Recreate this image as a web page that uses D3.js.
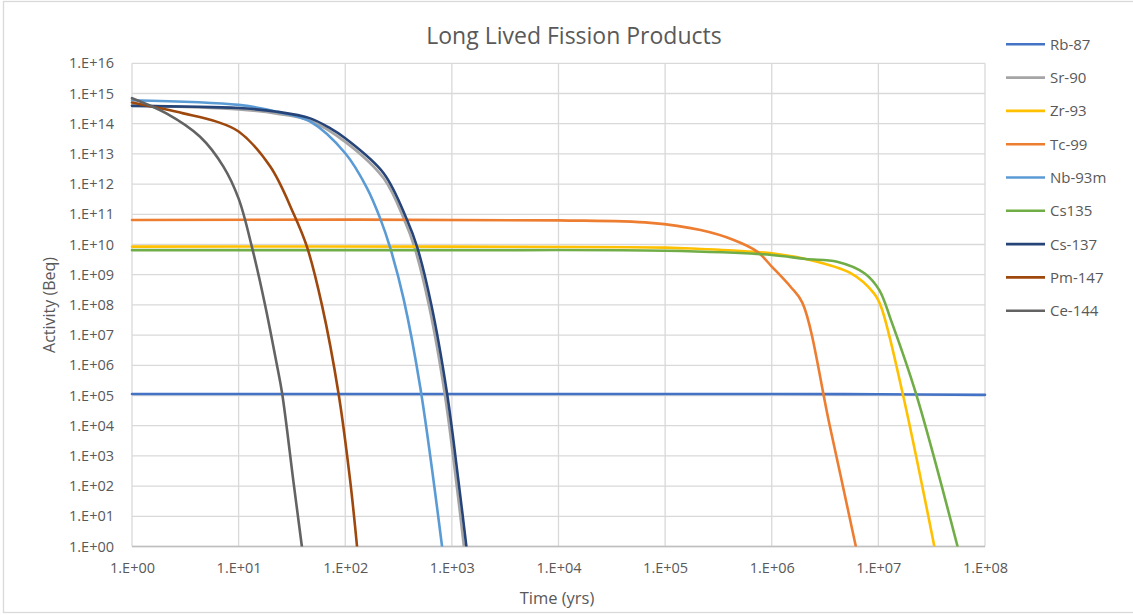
<!DOCTYPE html>
<html>
<head>
<meta charset="utf-8">
<script src="https://cdn.jsdelivr.net/npm/d3@7"></script>
<style>
  html, body { margin: 0; padding: 0; background: #ffffff; }
  svg { display: block; }
  text { font-family: "Open Sans", "Liberation Sans", sans-serif; fill: #595959; }
</style>
</head>
<body>
<svg id="chart" width="1133" height="615"></svg>
<script>
// ---------- data (time in years, activity in Beq) ----------
const seriesNames = ["Rb-87", "Sr-90", "Zr-93", "Tc-99", "Nb-93m", "Cs135", "Cs-137", "Pm-147", "Ce-144"];
const seriesColors = ["#4472c4", "#a5a5a5", "#ffc000", "#ed7d31", "#5b9bd5", "#70ad47", "#264478", "#9e480e", "#636363"];

const rb87 = [[1, 1.12e5], [1e4, 1.12e5], [1e6, 1.12e5], [1e7, 1.1e5], [1e8, 1.05e5]];
const sr90 = [[1, 4.0e14], [10, 2.95e14], [22.8, 2.15e14], [47, 1.26e14], [100, 2.5e13], [229, 1.55e12], [358, 6.5e10], [444, 8.5e9], [608, 1.0e8], [856, 1.17e5], [1102, 126], [1297, 1]];
const zr93 = [[1, 8.5e9], [1e3, 8.5e9], [1e5, 7.9e9], [2.15e5, 7.1e9], [4.4e5, 6.3e9], [1e6, 5.1e9], [2.08e6, 3.3e9], [5.5e6, 1.12e9], [9.1e6, 2.4e8], [1.06e7, 8.7e7], [1.69e7, 1.17e5], [3.35e7, 1]];
const tc99 = [[1, 6.5e10], [1e4, 6.3e10], [7.3e4, 5.2e10], [2.15e5, 3.0e10], [4.4e5, 1.41e10], [7.3e5, 5.8e9], [1e6, 1.86e9], [1.5e6, 4.0e8], [1.94e6, 1.17e8], [3.5e6, 1.0e4], [6.15e6, 1]];
const nb93m = [[1, 6.0e14], [10, 4.2e14], [22.8, 2.5e14], [47, 1.17e14], [100, 1.05e13], [160, 7.4e11], [213, 7.2e10], [265, 7.4e9], [353, 1.55e8], [506, 1.8e5], [809, 1]];
const cs135 = [[1, 6.5e9], [1e3, 6.5e9], [1e5, 6.2e9], [1e6, 4.5e9], [2.08e6, 3.3e9], [4.1e6, 2.7e9], [7.4e6, 1.12e9], [1.02e7, 3.1e8], [1.31e7, 3.2e7], [2.25e7, 1.17e5], [5.53e7, 1]];
const cs137 = [[1, 3.9e14], [10, 3.3e14], [22.8, 2.5e14], [47, 1.5e14], [72, 7.1e13], [100, 3.3e13], [229, 2.3e12], [380, 6.5e10], [471, 8.5e9], [642, 1.0e8], [901, 1.17e5], [1159, 126], [1368, 1]];
const pm147 = [[1, 5.0e14], [3.03, 2.2e14], [6.2, 1.17e14], [10, 5.5e13], [19.8, 3.8e12], [32.7, 1.07e11], [43.7, 8.5e9], [60.4, 1.0e8], [86.5, 1.17e5], [111, 160], [129, 1]];
const ce144 = [[1, 7.0e14], [2.1, 2.2e14], [4.35, 3.7e13], [7.2, 3.8e12], [10, 3.3e11], [13.3, 8.5e9], [17.7, 1.0e8], [22.7, 1.17e6], [25.6, 1.17e5], [32.8, 126], [39.2, 1]];

const seriesData = [rb87, sr90, zr93, tc99, nb93m, cs135, cs137, pm147, ce144];

const xTickValues = [1, 10, 1e2, 1e3, 1e4, 1e5, 1e6, 1e7, 1e8];
const xTickLabels = ["1.E+00", "1.E+01", "1.E+02", "1.E+03", "1.E+04", "1.E+05", "1.E+06", "1.E+07", "1.E+08"];
const yTickValues = [1, 1e1, 1e2, 1e3, 1e4, 1e5, 1e6, 1e7, 1e8, 1e9, 1e10, 1e11, 1e12, 1e13, 1e14, 1e15, 1e16];
const yTickLabels = ["1.E+00", "1.E+01", "1.E+02", "1.E+03", "1.E+04", "1.E+05", "1.E+06", "1.E+07", "1.E+08", "1.E+09", "1.E+10", "1.E+11", "1.E+12", "1.E+13", "1.E+14", "1.E+15", "1.E+16"];

const chartTitle = "Long Lived Fission Products";
const xTitle = "Time (yrs)";
const yTitle = "Activity (Beq)";

// ---------- layout ----------
const svg = d3.select("#chart");
const plot = { left: 132, right: 985, top: 63.3, bottom: 546.5 };

// outer chart border
svg.append("rect")
  .attr("x", 3.5).attr("y", 1.5).attr("width", 1140).attr("height", 611)
  .attr("fill", "none").attr("stroke", "#d9d9d9").attr("stroke-width", 1.3);

const x = d3.scaleLog().domain([1, 1e8]).range([plot.left, plot.right]);
const y = d3.scaleLog().domain([1, 1e16]).range([plot.bottom, plot.top]);

// gridlines
const grid = svg.append("g");
grid.selectAll("line.h").data(yTickValues).join("line")
  .attr("x1", plot.left).attr("x2", plot.right)
  .attr("y1", d => y(d)).attr("y2", d => y(d))
  .attr("stroke", "#d9d9d9").attr("stroke-width", 1.3);
grid.selectAll("line.v").data(xTickValues).join("line")
  .attr("x1", d => x(d)).attr("x2", d => x(d))
  .attr("y1", plot.top).attr("y2", plot.bottom)
  .attr("stroke", "#d9d9d9").attr("stroke-width", 1.3);
// x axis line
svg.append("line")
  .attr("x1", plot.left).attr("x2", plot.right)
  .attr("y1", plot.bottom).attr("y2", plot.bottom)
  .attr("stroke", "#bfbfbf").attr("stroke-width", 1.3);

// axes (labels only)
const xAxis = d3.axisBottom(x).tickValues(xTickValues)
  .tickFormat((d, i) => xTickLabels[i]).tickSize(0).tickPadding(16);
const gx = svg.append("g").attr("transform", `translate(0,${plot.bottom})`).call(xAxis);
gx.select(".domain").remove();
gx.selectAll("text").style("font-size", "14.5px").attr("fill", "#595959")
  .style("font-family", '"Open Sans", "Liberation Sans", sans-serif');

const yAxis = d3.axisLeft(y).tickValues(yTickValues)
  .tickFormat((d, i) => yTickLabels[i]).tickSize(0).tickPadding(18);
const gy = svg.append("g").attr("transform", `translate(${plot.left},0)`).call(yAxis);
gy.select(".domain").remove();
gy.selectAll("text").style("font-size", "14.5px").attr("fill", "#595959")
  .style("font-family", '"Open Sans", "Liberation Sans", sans-serif');

// clip
svg.append("clipPath").attr("id", "plotclip").append("rect")
  .attr("x", plot.left - 3).attr("y", plot.top - 3)
  .attr("width", plot.right - plot.left + 6).attr("height", plot.bottom - plot.top + 3);

const line = d3.line().x(d => x(d[0])).y(d => y(d[1])).curve(d3.curveCatmullRom.alpha(0.5));
const lines = svg.append("g").attr("clip-path", "url(#plotclip)");
seriesData.forEach((s, i) => {
  lines.append("path").datum(s)
    .attr("d", line)
    .attr("fill", "none")
    .attr("stroke", seriesColors[i])
    .attr("stroke-width", 2.6)
    .attr("stroke-linejoin", "round")
    .attr("stroke-linecap", "round");
});

// titles
svg.append("text").attr("x", 574).attr("y", 44).attr("text-anchor", "middle")
  .style("font-size", "23px").text(chartTitle);
svg.append("text").attr("x", 557).attr("y", 604).attr("text-anchor", "middle")
  .style("font-size", "16.5px").text(xTitle);
svg.append("text").attr("transform", "translate(55,305) rotate(-90)").attr("text-anchor", "middle")
  .style("font-size", "16px").text(yTitle);

// legend
const legend = svg.append("g");
seriesNames.forEach((name, i) => {
  const ly = 44.3 + i * 33.3;
  legend.append("line").attr("x1", 1006).attr("x2", 1045).attr("y1", ly).attr("y2", ly)
    .attr("stroke", seriesColors[i]).attr("stroke-width", 2.6);
  legend.append("text").attr("x", 1050).attr("y", ly + 5.5)
    .style("font-size", "15px").text(name);
});
</script>
</body>
</html>
